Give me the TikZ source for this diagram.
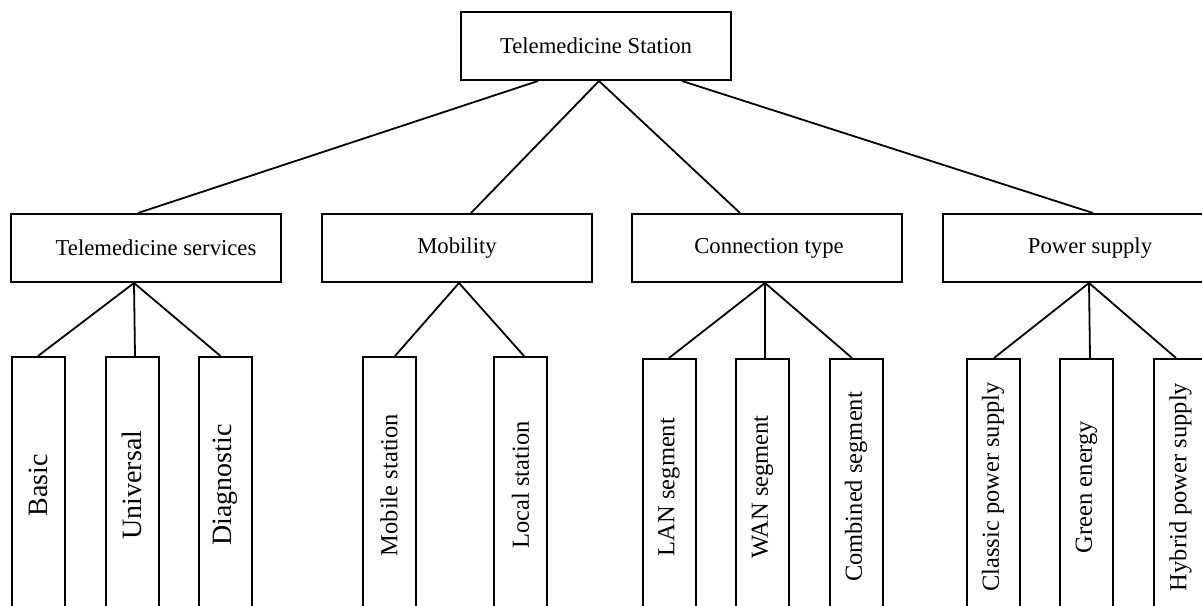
\documentclass[tikz,border=0pt]{standalone}
\usepackage{fontspec}
\setmainfont{Liberation Serif}
\usetikzlibrary{calc}
\tikzset{
  boxa/.style={draw, line width=1pt, rectangle, minimum width=135pt, minimum height=34pt, inner sep=0pt},
  lbl/.style={inner sep=0pt, font=\fontsize{11.35}{13}\selectfont},
  leaf/.style={draw, line width=1pt, rectangle, rotate=90, minimum width=128pt, minimum height=26.5pt, inner sep=0pt, font=\fontsize{12.25}{14}\selectfont},
  leafbig/.style={leaf, font=\fontsize{14}{16}\selectfont},
  conn/.style={line width=0.9pt}
}
\begin{document}
\begin{tikzpicture}[x=0.5pt,y=-0.5pt]
\useasboundingbox (0,0) rectangle (1202,605);
\clip (0,0) rectangle (1202,605);
% level 1
\node[boxa] (top) at (596,46) {};
\node[lbl] (toptxt) at (596,46) {Telemedicine Station};
% level 2
\node[boxa] (ts) at (146,248) {};
\node[lbl] (tstxt) at (156,248) {Telemedicine services};
\node[boxa] (mob) at (456.5,248) {};
\node[lbl] (mobtxt) at (457,248) {Mobility};
\node[boxa] (ct) at (767,248) {};
\node[lbl] (cttxt) at (769,248) {Connection type};
\node[boxa] (ps) at (1078,248) {};
\node[lbl] (pstxt) at (1090,248) {Power supply};
% level 3
\node[leafbig] (basic) at (38,485) {Basic};
\node[leafbig] (univ) at (132,485) {Universal};
\node[leafbig] (diag) at (225.5,485) {Diagnostic};
\node[leaf] (mobst) at (389,485) {Mobile station};
\node[leaf] (locst) at (520.5,485) {Local station};
\node[leaf] (lan) at (669,487) {LAN segment};
\node[leaf] (wan) at (762.5,487) {WAN segment};
\node[leaf] (comb) at (856,487) {Combined segment};
\node[leaf] (classic) at (993,487) {Classic power supply};
\node[leaf] (green) at (1086.5,487) {Green energy};
\node[leaf] (hybrid) at (1180.5,487) {Hybrid power supply};
% connectors level 1 -> 2
\draw[conn] ($(top.south)+(-58,0)$) -- ($(ts.north)+(-8,0)$);
\draw[conn] ($(top.south)+(3,0)$) -- ($(mob.north)+(14.5,0)$);
\draw[conn] ($(top.south)+(3,0)$) -- ($(ct.north)+(-27,0)$);
\draw[conn] ($(top.south)+(86,0)$) -- ($(ps.north)+(15,0)$);
% connectors level 2 -> 3
\draw[conn] ($(ts.south)+(-12,0)$) -- ($(basic.east)+(0,0)$);
\draw[conn] ($(ts.south)+(-12,0)$) -- ($(univ.east)+(3,0)$);
\draw[conn] ($(ts.south)+(-12,0)$) -- ($(diag.east)+(-5,0)$);
\draw[conn] ($(mob.south)+(2.5,0)$) -- ($(mobst.east)+(6,0)$);
\draw[conn] ($(mob.south)+(2.5,0)$) -- ($(locst.east)+(3.5,0)$);
\draw[conn] ($(ct.south)+(-2,0)$) -- ($(lan.east)+(0,0)$);
\draw[conn] ($(ct.south)+(-2,0)$) -- ($(wan.east)+(2.5,0)$);
\draw[conn] ($(ct.south)+(-2,0)$) -- ($(comb.east)+(-4,0)$);
\draw[conn] ($(ps.south)+(11,0)$) -- ($(classic.east)+(1,0)$);
\draw[conn] ($(ps.south)+(11,0)$) -- ($(green.east)+(3.5,0)$);
\draw[conn] ($(ps.south)+(11,0)$) -- ($(hybrid.east)+(-4.5,0)$);
\end{tikzpicture}
\end{document}
